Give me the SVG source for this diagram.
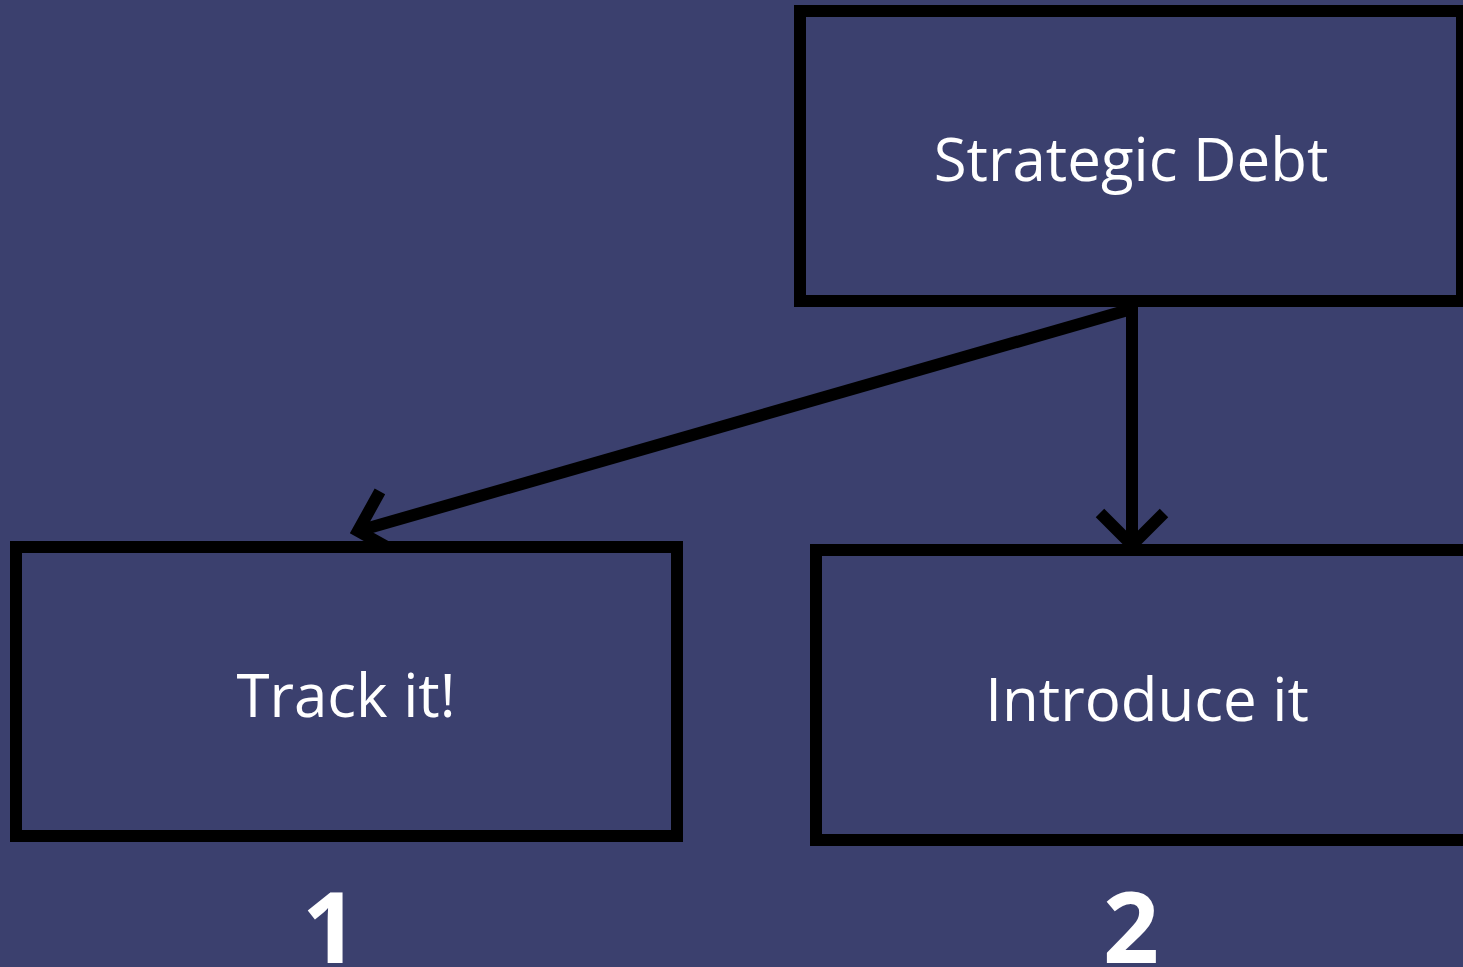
<svg xmlns="http://www.w3.org/2000/svg" width="1463" height="967" viewBox="0 0 1463 967">
<style>
.box{fill:#3b406e;stroke:#000;stroke-width:12}
.lbl{font-family:"Open Sans",sans-serif;font-size:60px;fill:#fff;text-anchor:middle}
.num{font-family:"Open Sans",sans-serif;font-size:98px;font-weight:bold;fill:#fff;text-anchor:middle}
.edge{fill:none;stroke:#000;stroke-width:12;marker-end:url(#chev)}
</style>
<defs>
<marker id="chev" markerUnits="userSpaceOnUse" orient="auto" refX="0" refY="0" viewBox="-50 -50 60 100" markerWidth="60" markerHeight="100" overflow="visible">
<path d="M -32 -32 L 0 0 L -32 32" fill="none" stroke="#000" stroke-width="12"/>
</marker>
</defs>
<rect width="1463" height="967" fill="#3b406e"/>
<g id="connectors">
<path class="edge" d="M 1132 307 L 1132 545"/>
<path class="edge" d="M 1128 310 L 358 531"/>
</g>
<g id="node-strategic">
<rect class="box" x="800" y="11" width="662" height="290"/>
<text class="lbl" x="1131" y="181">Strategic Debt</text>
</g>
<g id="node-track">
<rect class="box" x="16" y="547" width="661" height="289"/>
<text class="lbl" x="346" y="717">Track it!</text>
</g>
<g id="node-introduce">
<rect class="box" x="816" y="550" width="660" height="290"/>
<text class="lbl" x="1147" y="721">Introduce it</text>
</g>
<g id="label-1"><text class="num" x="330" y="963">1</text></g>
<g id="label-2"><text class="num" x="1131" y="963">2</text></g>
</svg>
